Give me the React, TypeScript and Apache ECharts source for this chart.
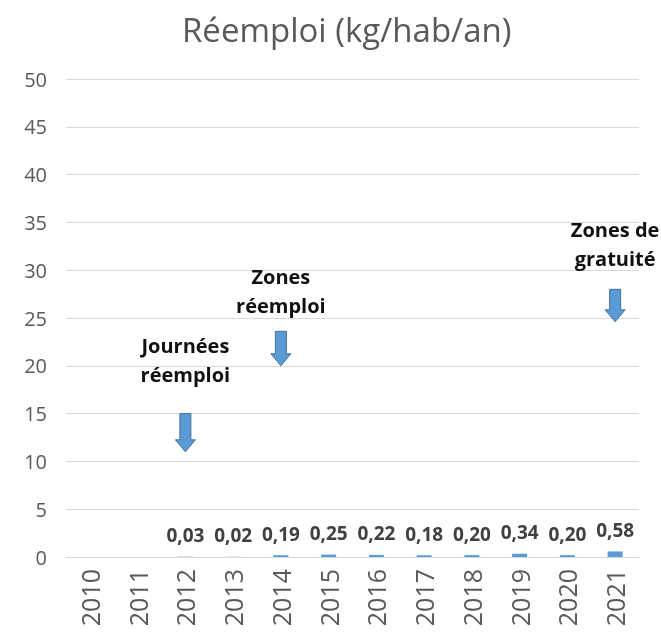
import React, { useEffect, useRef } from "react";
import * as echarts from "echarts";

const years = ["2010", "2011", "2012", "2013", "2014", "2015", "2016", "2017", "2018", "2019", "2020", "2021"];
const values: (number | null)[] = [null, null, 0.03, 0.02, 0.19, 0.25, 0.22, 0.18, 0.2, 0.34, 0.2, 0.58];
const yTicks = { min: 0, max: 50, interval: 5 };
const annotations = [
  { year: "2012", text: "Journées\nréemploi", textY: 23.6, arrowTop: 15, arrowBottom: 11 },
  { year: "2014", text: "Zones\nréemploi", textY: 30.9, arrowTop: 23.6, arrowBottom: 20 },
  { year: "2021", text: "Zones de\ngratuité", textY: 35.8, arrowTop: 28, arrowBottom: 24.6 },
];

export default function App() {
  const ref = useRef<HTMLDivElement>(null);
  useEffect(() => {
    if (!ref.current) return;
    const chart = echarts.init(ref.current, null, { renderer: "svg" });
    const font = "'Open Sans', 'Liberation Sans', sans-serif";
    chart.setOption({
      animation: false,
      title: {
        text: "Réemploi (kg/hab/an)",
        left: 177,
        top: 8,
        textStyle: { fontFamily: font, fontSize: 33, fontWeight: "normal", color: "#595959" },
      },
      grid: { left: 66, right: 22, top: 79, bottom: 75, containLabel: false, outerBoundsMode: "none" },
      xAxis: {
        type: "category",
        data: years,
        axisLine: { lineStyle: { color: "#d9d9d9" } },
        axisTick: { show: false },
        axisLabel: { rotate: 90, fontSize: 25, color: "#595959", fontFamily: font, margin: 12 },
      },
      yAxis: {
        type: "value",
        min: yTicks.min,
        max: yTicks.max,
        interval: yTicks.interval,
        axisLine: { show: false },
        axisTick: { show: false },
        splitLine: { lineStyle: { color: "#d9d9d9" } },
        axisLabel: { fontSize: 20, color: "#595959", fontFamily: font, margin: 19 },
      },
      series: [
        {
          type: "bar",
          data: values,
          barWidth: 15,
          itemStyle: { color: "#5B9BD5" },
          label: {
            show: true,
            position: "top",
            distance: 12,
            fontSize: 19,
            fontWeight: "bold",
            color: "#404040",
            fontFamily: font,
            formatter: (p: any) => (p.value == null ? "" : Number(p.value).toFixed(2).replace(".", ",")),
          },
        },
      ],
    });
    const graphics: any[] = [];
    annotations.forEach((a) => {
      const [cx, ty] = chart.convertToPixel({ gridIndex: 0 }, [a.year, a.textY]) as number[];
      const [, top] = chart.convertToPixel({ gridIndex: 0 }, [a.year, a.arrowTop]) as number[];
      const [, bot] = chart.convertToPixel({ gridIndex: 0 }, [a.year, a.arrowBottom]) as number[];
      graphics.push({
        type: "text",
        x: cx,
        y: ty,
        style: {
          text: a.text,
          fontSize: 20,
          fontWeight: "bold",
          fill: "#111",
          fontFamily: font,
          align: "center",
          verticalAlign: "top",
          lineHeight: 29,
        },
      });
      const head = 12;
      const sw = 5.5;
      const hw = 10;
      graphics.push({
        type: "polygon",
        shape: {
          points: [
            [cx - sw, top],
            [cx + sw, top],
            [cx + sw, bot - head],
            [cx + hw, bot - head],
            [cx, bot],
            [cx - hw, bot - head],
            [cx - sw, bot - head],
          ],
        },
        style: { fill: "#5B9BD5", stroke: "#41719C", lineWidth: 1 },
      });
    });
    chart.setOption({ graphic: graphics });
    return () => chart.dispose();
  }, []);
  return <div ref={ref} style={{ width: 661, height: 632, position: "fixed", left: 0, top: 0 }} />;
}
